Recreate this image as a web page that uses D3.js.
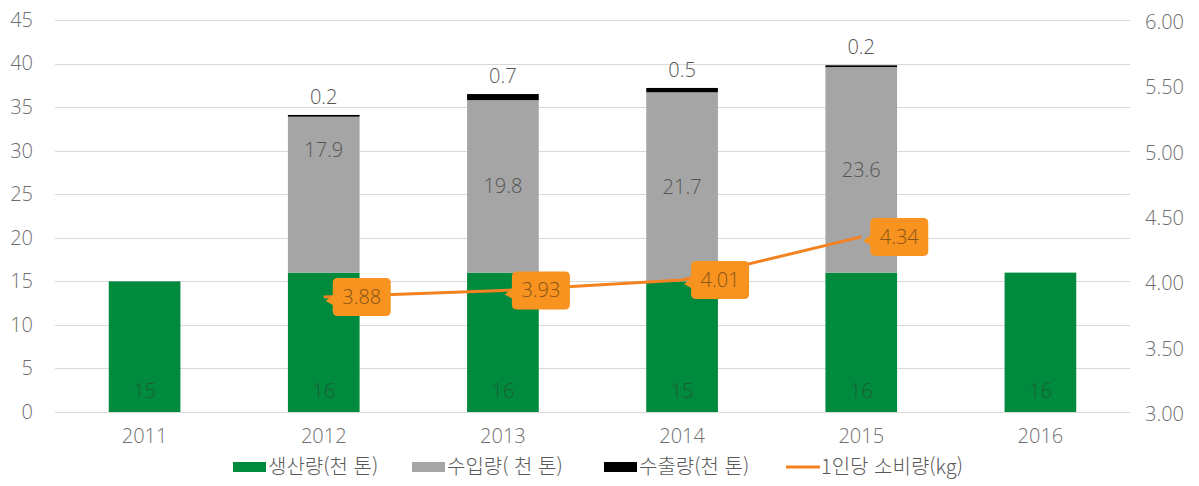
<!DOCTYPE html>
<html lang="ko">
<head>
    <meta charset="UTF-8">
    <title>생산량 / 수입량 / 수출량 / 1인당 소비량</title>
    <script src="https://d3js.org/d3.v7.min.js"></script>
    <style>
        body { margin: 0; background: #fff; }
        svg text { font-family: "Open Sans", "Noto Sans CJK KR", sans-serif; font-weight: 300; }
        svg .kr { font-family: "Noto Sans CJK KR", sans-serif; font-weight: 300; }
    </style>
</head>
<body>
    <div id="chart"></div>
    <script>
        // data
        const years = ["2011", "2012", "2013", "2014", "2015", "2016"];
        const production = [15, 16, 16, 15, 16, 16];        // 생산량(천 톤)
        const imports = [null, 17.9, 19.8, 21.7, 23.6, null]; // 수입량( 천 톤)
        const exports = [null, 0.2, 0.7, 0.5, 0.2, null];     // 수출량(천 톤)
        const perCapita = [null, 3.88, 3.93, 4.01, 4.34, null]; // 1인당 소비량(kg)
        const leftTicks = [0, 5, 10, 15, 20, 25, 30, 35, 40, 45];
        const rightTicks = [3, 3.5, 4, 4.5, 5, 5.5, 6];
        const legendLabels = ["생산량(천 톤)", "수입량( 천 톤)", "수출량(천 톤)", "1인당 소비량(kg)"];

        const colors = { prod: "#008a3e", imp: "#a5a5a5", exp: "#000000", line: "#f58220" };

        const W = 1199, H = 486;
        const plot = { left: 55, right: 1130, top: 20, bottom: 412 };
        const fs = 20;

        const svg = d3.select("#chart").append("svg")
            .attr("width", W)
            .attr("height", H);

        // scales
        const x = d3.scaleBand()
            .domain(years)
            .range([plot.left, plot.right])
            .paddingInner(0.6)
            .paddingOuter(0.3);

        const y = d3.scaleLinear().domain([0, 45]).range([plot.bottom, plot.top]);
        const y2 = d3.scaleLinear().domain([3, 6]).range([plot.bottom, plot.top]);

        // gridlines
        svg.append("g")
            .selectAll("line")
            .data(leftTicks)
            .join("line")
            .attr("x1", plot.left)
            .attr("x2", plot.right)
            .attr("y1", d => Math.round(y(d)) + 0.5)
            .attr("y2", d => Math.round(y(d)) + 0.5)
            .attr("stroke", "#d9d9d9")
            .attr("stroke-width", 1);

        // left axis
        const leftAxis = svg.append("g")
            .attr("transform", `translate(${plot.left},0)`)
            .call(d3.axisLeft(y).tickValues(leftTicks).tickSize(0).tickPadding(22));
        leftAxis.select(".domain").remove();
        leftAxis.selectAll("text").attr("font-size", fs).attr("fill", "#6e6e6e");

        // right axis
        const rightAxis = svg.append("g")
            .attr("transform", `translate(${plot.right},0)`)
            .call(d3.axisRight(y2).tickValues(rightTicks).tickFormat(d3.format(".2f")).tickSize(0).tickPadding(15));
        rightAxis.select(".domain").remove();
        rightAxis.selectAll("text").attr("font-size", fs).attr("fill", "#6e6e6e").attr("dy", "0.42em");

        // bottom axis
        const bottomAxis = svg.append("g")
            .attr("transform", `translate(0,${plot.bottom})`)
            .call(d3.axisBottom(x).tickSize(0).tickPadding(17));
        bottomAxis.select(".domain").remove();
        bottomAxis.selectAll("text").attr("font-size", fs).attr("fill", "#6e6e6e");

        // stacked bars
        const rows = years.map((yr, i) => {
            const p = production[i];
            const im = imports[i] || 0;
            const ex = exports[i] || 0;
            return { yr, i, p, im, ex, imTop: p + im, exTop: p + im + ex };
        });

        const bars = svg.append("g");

        bars.selectAll(".prod")
            .data(rows)
            .join("rect")
            .attr("class", "prod")
            .attr("x", d => x(d.yr))
            .attr("width", x.bandwidth())
            .attr("y", d => y(d.p))
            .attr("height", d => y(0) - y(d.p))
            .attr("fill", colors.prod);

        bars.selectAll(".imp")
            .data(rows.filter(d => d.im))
            .join("rect")
            .attr("class", "imp")
            .attr("x", d => x(d.yr))
            .attr("width", x.bandwidth())
            .attr("y", d => y(d.imTop))
            .attr("height", d => y(d.p) - y(d.imTop))
            .attr("fill", colors.imp);

        bars.selectAll(".exp")
            .data(rows.filter(d => d.ex))
            .join("rect")
            .attr("class", "exp")
            .attr("x", d => x(d.yr))
            .attr("width", x.bandwidth())
            .attr("y", d => y(d.exTop))
            .attr("height", d => Math.max(1.5, y(d.imTop) - y(d.exTop)))
            .attr("fill", colors.exp);

        // bar labels
        const labels = svg.append("g").attr("text-anchor", "middle").attr("font-size", fs);

        labels.selectAll(".plab")
            .data(rows)
            .join("text")
            .attr("x", d => x(d.yr) + x.bandwidth() / 2)
            .attr("y", y(0) - 14)
            .attr("fill", "#1d5e36")
            .attr("font-weight", 400)
            .text(d => d.p);

        labels.selectAll(".ilab")
            .data(rows.filter(d => d.im))
            .join("text")
            .attr("x", d => x(d.yr) + x.bandwidth() / 2)
            // 2012 label was nudged up in the original to clear the callout
            .attr("y", d => (d.i === 1 ? y(d.imTop) + 33 : (y(d.p) + y(d.imTop)) / 2) + 7)
            .attr("fill", "#555")
            .text(d => d3.format(".1f")(d.im));

        labels.selectAll(".elab")
            .data(rows.filter(d => d.ex))
            .join("text")
            .attr("x", d => x(d.yr) + x.bandwidth() / 2)
            .attr("y", d => y(d.exTop) - 11)
            .attr("fill", "#555")
            .text(d => d3.format(".1f")(d.ex));

        // per-capita line
        const linePts = rows.filter(d => perCapita[d.i] != null)
            .map(d => ({ yr: d.yr, v: perCapita[d.i] }));

        const line = d3.line()
            .x(d => x(d.yr) + x.bandwidth() / 2)
            .y(d => y2(d.v));

        svg.append("path")
            .datum(linePts)
            .attr("fill", "none")
            .attr("stroke", colors.line)
            .attr("stroke-width", 3)
            .attr("d", line);

        // callout labels
        const callouts = svg.append("g");
        linePts.forEach(d => {
            const px = x(d.yr) + x.bandwidth() / 2;
            const py = y2(d.v);
            const bx = px + 9, bw = 58, bh = 38, by = py - bh / 2, r = 5;
            const path = `M${bx + r},${by} H${bx + bw - r} Q${bx + bw},${by} ${bx + bw},${by + r}
                V${by + bh - r} Q${bx + bw},${by + bh} ${bx + bw - r},${by + bh}
                H${bx + r} Q${bx},${by + bh} ${bx},${by + bh - r}
                V${py + 8} L${px + 2},${py + 4} L${bx},${py - 2}
                V${by + r} Q${bx},${by} ${bx + r},${by} Z`;
            callouts.append("path")
                .attr("d", path)
                .attr("fill", "#f7931e");
            callouts.append("text")
                .attr("x", bx + bw / 2)
                .attr("y", py + 7)
                .attr("text-anchor", "middle")
                .attr("font-size", fs)
                .attr("fill", "#8a5518")
                .text(d3.format(".2f")(d.v));
        });

        // legend
        const legend = svg.append("g").attr("transform", "translate(0,467)");
        const legendX = [233, 412, 604, 786];
        const legendKinds = ["prod", "imp", "exp", "line"];
        legendLabels.forEach((lab, i) => {
            const g = legend.append("g").attr("transform", `translate(${legendX[i]},0)`);
            if (legendKinds[i] === "line") {
                g.append("line")
                    .attr("x1", 0).attr("x2", 34)
                    .attr("y1", 0).attr("y2", 0)
                    .attr("stroke", colors.line)
                    .attr("stroke-width", 3);
            } else {
                g.append("rect")
                    .attr("x", 0).attr("y", -5)
                    .attr("width", 33).attr("height", 10)
                    .attr("fill", colors[legendKinds[i]]);
            }
            g.append("text")
                .attr("class", "kr")
                .attr("x", 35)
                .attr("y", 7)
                .attr("font-size", 20)
                .attr("fill", "#595959")
                .text(lab);
        });
    </script>
</body>
</html>
